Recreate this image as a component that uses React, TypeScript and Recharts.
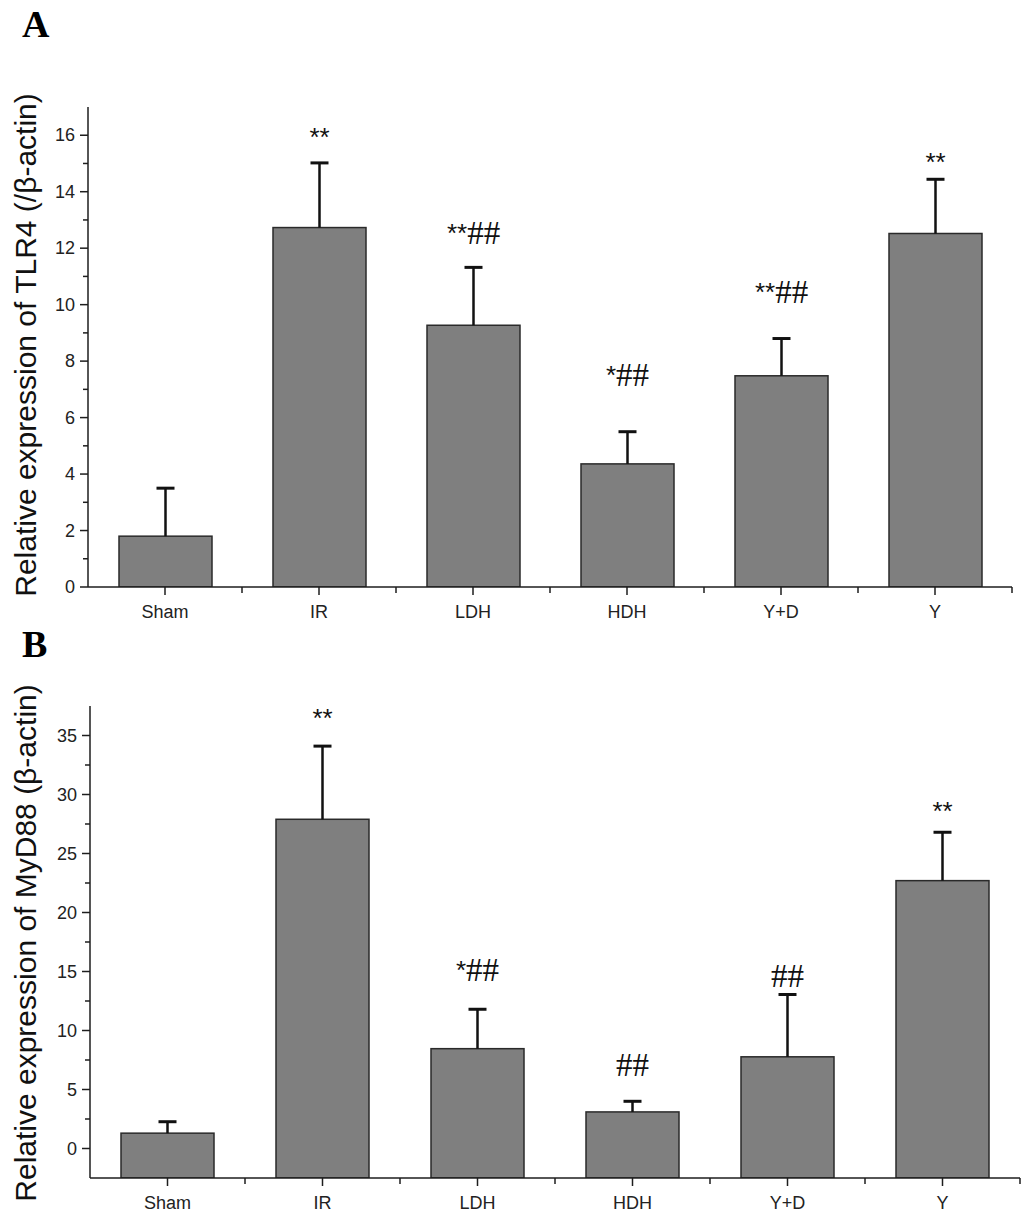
import React from "react";
import { BarChart, Bar, XAxis, YAxis } from "recharts";

const groups = ["Sham", "IR", "LDH", "HDH", "Y+D", "Y"];

// Panel A - TLR4
const tlr4Mean = [1.8, 12.73, 9.27, 4.36, 7.48, 12.52];
const tlr4Err = [1.7, 2.29, 2.05, 1.14, 1.32, 1.92];
const tlr4Marks = ["", "**", "**##", "*##", "**##", "**"];
const tlr4MarkAt = [0, 15.93, 12.53, 7.5, 10.44, 15.04];
const tlr4Major = [0, 2, 4, 6, 8, 10, 12, 14, 16];
const tlr4Minor = [1, 3, 5, 7, 9, 11, 13, 15];

// Panel B - MyD88
const myd88Mean = [1.3, 27.9, 8.46, 3.1, 7.77, 22.7];
const myd88Err = [0.97, 6.2, 3.34, 0.9, 5.28, 4.1];
const myd88Marks = ["", "**", "*##", "##", "##", "**"];
const myd88MarkAt = [0, 36.5, 15.1, 7.1, 14.6, 28.6];
const myd88Major = [0, 5, 10, 15, 20, 25, 30, 35];
const myd88Minor = [2.5, 7.5, 12.5, 17.5, 22.5, 27.5, 32.5];

const SANS = "'Liberation Sans', Arial, sans-serif";
const SERIF = "'Liberation Serif', 'Times New Roman', serif";
const INK = "#1e1e1e";

// bars start at the bottom of the value axis (Origin style)
const buildRows = (mean, err, marks, markAt, floor) =>
  groups.map((group, i) => ({
    group,
    mean: mean[i],
    range: [floor, mean[i]],
    floor,
    err: err[i],
    mark: marks[i],
    markAt: markAt[i],
  }));

const tlr4Data = buildRows(tlr4Mean, tlr4Err, tlr4Marks, tlr4MarkAt, 0);
const myd88Data = buildRows(myd88Mean, myd88Err, myd88Marks, myd88MarkAt, -2.5);

// bar + upward error whisker + significance mark, all from the bar's own scale
const BarWithError = (props) => {
  const { x, y, width, height, payload } = props;
  const unit = height / (payload.mean - payload.floor);
  const cx = x + width / 2;
  const errTop = y - payload.err * unit;
  const markY = y - (payload.markAt - payload.mean) * unit;
  const stars = (payload.mark.match(/^\*+/) || [""])[0];
  const hashes = payload.mark.slice(stars.length);
  return (
    <g>
      <rect
        x={x}
        y={y}
        width={width}
        height={height}
        fill="#7f7f7f"
        stroke="#2a2a2a"
        strokeWidth={1.5}
      />
      <line x1={cx} x2={cx} y1={y} y2={errTop} stroke="#111" strokeWidth={2.5} />
      <line x1={cx - 9} x2={cx + 9} y1={errTop} y2={errTop} stroke="#111" strokeWidth={3} />
      {payload.mark && (
        <text x={cx} y={markY} textAnchor="middle" dominantBaseline="central" fill="#111">
          {stars && (
            <tspan fontFamily={SANS} fontSize={26}>
              {stars}
            </tspan>
          )}
          {hashes && (
            <tspan fontFamily={SERIF} fontSize={33}>
              {hashes}
            </tspan>
          )}
        </text>
      )}
    </g>
  );
};

const makeYTick = (majors) => (props) => {
  const { x, y, payload } = props;
  const major = majors.includes(payload.value);
  return (
    <g>
      <line x1={x - (major ? 8 : 5)} x2={x} y1={y} y2={y} stroke={INK} strokeWidth={1.5} />
      {major && (
        <text
          x={x - 13}
          y={y}
          textAnchor="end"
          dominantBaseline="central"
          fontFamily={SANS}
          fontSize={18}
          fill="#222"
        >
          {payload.value}
        </text>
      )}
    </g>
  );
};

const makeXTick = (band) => (props) => {
  const { x, y, payload } = props;
  return (
    <g>
      <line x1={x} x2={x} y1={y} y2={y + 8} stroke={INK} strokeWidth={1.5} />
      <line x1={x + band / 2} x2={x + band / 2} y1={y} y2={y + 6} stroke={INK} strokeWidth={1.5} />
      <text
        x={x}
        y={y + 25}
        textAnchor="middle"
        dominantBaseline="central"
        fontFamily={SANS}
        fontSize={18}
        fill="#222"
      >
        {payload.value}
      </text>
    </g>
  );
};

const axisTitle = (text, cx, cy) => () =>
  (
    <text
      x={cx}
      y={cy}
      transform={`rotate(-90 ${cx} ${cy})`}
      textAnchor="middle"
      dominantBaseline="central"
      fontFamily={SANS}
      fontSize={30}
      fill="#111"
    >
      {text}
    </text>
  );

const Panel = ({ data, width, height, margin, domain, majors, minors, band, title, titleY }) => (
  <BarChart width={width} height={height} data={data} margin={margin}>
    <XAxis
      dataKey="group"
      height={40}
      interval={0}
      tickSize={0}
      tickMargin={0}
      tickLine={false}
      tick={makeXTick(band)}
      axisLine={{ stroke: INK, strokeWidth: 1.5 }}
    />
    <YAxis
      type="number"
      width={60}
      domain={domain}
      allowDataOverflow
      ticks={[...majors, ...minors].sort((a, b) => a - b)}
      interval={0}
      tickSize={0}
      tickMargin={0}
      tickLine={false}
      tick={makeYTick(majors)}
      axisLine={{ stroke: INK, strokeWidth: 1.5 }}
      label={{ content: axisTitle(title, 25, titleY) }}
    />
    <Bar dataKey="range" barSize={93} shape={BarWithError} isAnimationActive={false} />
  </BarChart>
);

const letterStyle = {
  position: "absolute",
  left: 22,
  fontFamily: SERIF,
  fontWeight: "bold",
  fontSize: 38,
  lineHeight: 1,
  color: "#000",
};

export default function App() {
  return (
    <div
      style={{
        position: "absolute",
        left: 0,
        top: 0,
        width: 1033,
        height: 1231,
        background: "#fff",
        overflow: "hidden",
      }}
    >
      <div style={{ position: "absolute", left: 0, top: 0 }}>
        <Panel
          data={tlr4Data}
          width={1033}
          height={640}
          margin={{ top: 107, right: 21, bottom: 13, left: 28 }}
          domain={[0, 17]}
          majors={tlr4Major}
          minors={tlr4Minor}
          band={154}
          title="Relative expression of TLR4 (/β-actin)"
          titleY={345}
        />
      </div>
      <div style={{ position: "absolute", left: 0, top: 640 }}>
        <Panel
          data={myd88Data}
          width={1033}
          height={591}
          margin={{ top: 66, right: 13, bottom: 13, left: 30 }}
          domain={[-2.5, 37.5]}
          majors={myd88Major}
          minors={myd88Minor}
          band={155}
          title="Relative expression of MyD88 (β-actin)"
          titleY={303}
        />
      </div>
      <div style={{ ...letterStyle, top: 5 }}>A</div>
      <div style={{ ...letterStyle, top: 625 }}>B</div>
    </div>
  );
}
